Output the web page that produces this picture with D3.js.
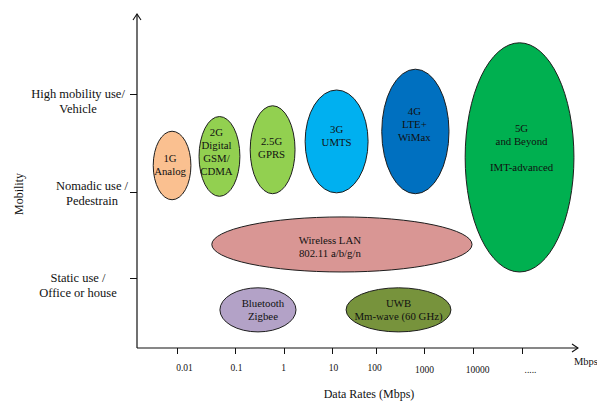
<!DOCTYPE html>
<html>
<head>
<meta charset="utf-8">
<script src="https://cdn.jsdelivr.net/npm/d3@7/dist/d3.min.js"></script>
<style>
  html, body { margin: 0; padding: 0; background: #fff; }
  svg { display: block; font-family: "Liberation Serif", "Times New Roman", serif; }
</style>
</head>
<body>
<svg id="chart" width="597" height="403"></svg>
<script>
// ---------- data ----------
// x values are log10(Mbps); the last tick is the open-ended "....."
const xTickValues = [-2, -1, 0, 1, 2, 3, 4, 5];
const xTickLabels = ["0.01", "0.1", "1", "10", "100", "1000", "10000", "....."];
// mobility levels: 1 = static, 2 = nomadic, 3 = high mobility
const mobilityLevels = [1, 2, 3];
const mobilityLabels = [
  ["Static use /", "Office or house"],
  ["Nomadic use /", "Pedestrain"],
  ["High mobility use/", "Vehicle"]
];
const techNames = ["1G", "2G", "2.5G", "3G", "4G", "5G", "WLAN", "Bluetooth", "UWB"];
const techText = [
  ["1G", "Analog"],
  ["2G", "Digital", "GSM/", "CDMA"],
  ["2.5G", "GPRS"],
  ["3G", "UMTS"],
  ["4G", "LTE+", "WiMax"],
  ["5G", "and Beyond", "", "IMT-advanced"],
  ["Wireless LAN", "802.11 a/b/g/n"],
  ["Bluetooth", "Zigbee"],
  ["UWB", "Mm-wave (60 GHz)"]
];
const rateMin = [-2.41, -1.62, -0.69, 0.44, 2.12, 3.84, -1.40, -1.26, 1.32];
const rateMax = [-1.76, -0.90, 0.23, 1.82, 3.51, 6.06, 3.98, 0.25, 3.55];
const mobMin  = [1.91, 1.95, 1.98, 1.99, 1.98, 1.07, 1.07, 0.23, 0.23];
const mobMax  = [2.62, 2.77, 2.88, 3.05, 3.31, 3.64, 1.71, 0.86, 0.86];
const techColors = ["#FAC090", "#92D050", "#92D050", "#00B0F0", "#0070C0", "#00B050", "#D99694", "#B3A2C7", "#77933C"];

// ---------- layout / style ----------
const svg = d3.select("#chart");
const axisX0 = 137, axisY0 = 348, axisTop = 14, axisRight = 578;

const x = d3.scaleLinear()
  .domain(xTickValues)
  .range([177, 235, 284, 332, 376, 424, 473, 522]);
const y = d3.scaleLinear()
  .domain([0, 1, 2, 3, 4])
  .range([axisY0, 278, 192, 94, axisTop]);

// label offsets (pixels) relative to the ellipse centre
const textDx = [-2, -3, -1, 0, -1, 2, -12, 5, 0];
const textDy = [-1, -5, -2, -6, -7, -10, 2, 0, 0];
const lineH = 13;

// ---------- ellipses ----------
const tech = techNames.map((n, i) => ({
  name: n, lines: techText[i],
  x0: rateMin[i], x1: rateMax[i], y0: mobMin[i], y1: mobMax[i],
  color: techColors[i], dx: textDx[i], dy: textDy[i]
}));

const g = svg.append("g");
g.selectAll("ellipse").data(tech).join("ellipse")
  .attr("cx", d => (x(d.x0) + x(d.x1)) / 2)
  .attr("cy", d => (y(d.y0) + y(d.y1)) / 2)
  .attr("rx", d => Math.abs(x(d.x1) - x(d.x0)) / 2)
  .attr("ry", d => Math.abs(y(d.y0) - y(d.y1)) / 2)
  .attr("fill", d => d.color)
  .attr("stroke", "#1e1e1e")
  .attr("stroke-width", 1);

tech.forEach(d => {
  const cx = (x(d.x0) + x(d.x1)) / 2 + d.dx;
  const cy = (y(d.y0) + y(d.y1)) / 2 + d.dy;
  const n = d.lines.length;
  const t = g.append("text")
    .attr("text-anchor", "middle")
    .attr("font-size", "10.8px")
    .attr("fill", "#111");
  d.lines.forEach((ln, k) => {
    t.append("tspan")
      .attr("x", cx)
      .attr("y", cy + (k - (n - 1) / 2) * lineH + 4)
      .text(ln);
  });
});

// ---------- axes ----------
const axisColor = "#111";
// y axis line + arrow
svg.append("line").attr("x1", axisX0).attr("x2", axisX0).attr("y1", axisY0).attr("y2", axisTop)
  .attr("stroke", axisColor).attr("stroke-width", 1.2);
svg.append("path").attr("d", `M${axisX0 - 4},${axisTop + 6} L${axisX0},${axisTop} L${axisX0 + 4},${axisTop + 6}`)
  .attr("fill", "none").attr("stroke", axisColor).attr("stroke-width", 1.1);
// x axis line + arrow
svg.append("line").attr("x1", axisX0).attr("x2", axisRight).attr("y1", axisY0).attr("y2", axisY0)
  .attr("stroke", axisColor).attr("stroke-width", 1.2);
svg.append("path").attr("d", `M${axisRight - 6},${axisY0 - 4} L${axisRight},${axisY0} L${axisRight - 6},${axisY0 + 4}`)
  .attr("fill", "none").attr("stroke", axisColor).attr("stroke-width", 1.1);

// x ticks
const xAxis = d3.axisBottom(x).tickValues(xTickValues)
  .tickFormat((d, i) => xTickLabels[i]).tickSize(6).tickPadding(8);
const xg = svg.append("g").attr("transform", `translate(0,${axisY0})`).call(xAxis);
xg.select(".domain").remove();
xg.selectAll(".tick line").attr("stroke", axisColor).attr("stroke-width", 1);
xg.selectAll(".tick text")
  .attr("font-family", "Liberation Serif, Times New Roman, serif")
  .attr("font-size", "9.5px").attr("fill", "#111")
  .attr("dy", (d, i) => (i < 5 ? "0.9em" : "1.2em"))
  .attr("dx", (d, i) => ([7, 1, -1, 1, -2, 0, 4, 8][i]) + "px");

// y ticks
const yAxis = d3.axisLeft(y).tickValues(mobilityLevels).tickFormat("").tickSize(7);
const yg = svg.append("g").attr("transform", `translate(${axisX0},0)`).call(yAxis);
yg.select(".domain").remove();
yg.selectAll(".tick line").attr("stroke", axisColor).attr("stroke-width", 1);

const labelCx = [78, 92, 78];
const labelDy = [0, -6, 0];
mobilityLevels.forEach((m, i) => {
  const t = svg.append("text").attr("text-anchor", "middle")
    .attr("font-size", "12.5px").attr("fill", "#111");
  mobilityLabels[i].forEach((ln, k) => {
    t.append("tspan").attr("x", labelCx[i]).attr("y", y(m) + labelDy[i] + 4 + k * 15).text(ln);
  });
});

// axis titles
svg.append("text").attr("transform", "translate(23,194) rotate(-90)")
  .attr("text-anchor", "middle").attr("font-size", "12px").attr("fill", "#111").text("Mobility");
svg.append("text").attr("x", 369).attr("y", 398)
  .attr("text-anchor", "middle").attr("font-size", "12px").attr("fill", "#111").text("Data Rates (Mbps)");
svg.append("text").attr("x", 574).attr("y", 365)
  .attr("font-size", "10.5px").attr("fill", "#111").text("Mbps");
</script>
</body>
</html>
